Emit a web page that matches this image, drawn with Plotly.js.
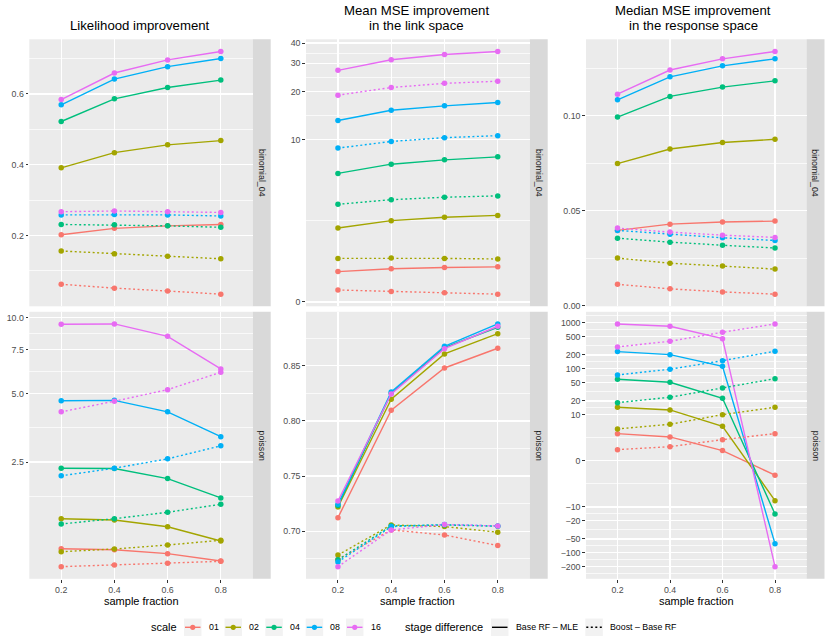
<!DOCTYPE html>
<html>
<head>
<meta charset="utf-8">
<script src="https://cdn.plot.ly/plotly-3.0.1.min.js"></script>
<style>
  html, body { margin: 0; padding: 0; background: #fff; }
  #chart { width: 830px; height: 642px; }
</style>
</head>
<body>
<div id="chart"></div>
<script>
const sampleFraction = [0.2, 0.4, 0.6, 0.8];
const sampleLabels = ['0.2', '0.4', '0.6', '0.8'];
const scaleLevels = ['01', '02', '04', '08', '16'];
const scaleColors = ['#F8766D', '#A3A500', '#00BF7D', '#00B0F6', '#E76BF3'];
const stageLabels = ['Base RF \u2013 MLE', 'Boost \u2013 Base RF'];
const rowLabels = ['binomial_04', 'poisson'];

// one row per scale level (01, 02, 04, 08, 16), one column per sample fraction
const likBinomBase = [
  [0.202, 0.220, 0.227, 0.231],
  [0.391, 0.434, 0.456, 0.468],
  [0.522, 0.586, 0.618, 0.639],
  [0.569, 0.642, 0.677, 0.700],
  [0.584, 0.659, 0.696, 0.720]
];
const likBinomBoost = [
  [0.062, 0.051, 0.043, 0.034],
  [0.156, 0.148, 0.141, 0.134],
  [0.231, 0.230, 0.227, 0.223],
  [0.258, 0.259, 0.258, 0.255],
  [0.267, 0.269, 0.267, 0.265]
];
const meanBinomBase = [
  [0.89, 0.98, 1.02, 1.04],
  [2.52, 2.87, 3.04, 3.14],
  [6.08, 6.98, 7.44, 7.78],
  [13.2, 15.3, 16.3, 17.1],
  [27.1, 31.5, 34.0, 35.5]
];
const meanBinomBoost = [
  [0.34, 0.30, 0.26, 0.22],
  [1.32, 1.33, 1.32, 1.30],
  [3.77, 4.06, 4.22, 4.31],
  [8.84, 9.74, 10.3, 10.6],
  [19.0, 21.2, 22.5, 23.2]
];
const medBinomBase = [
  [0.0396, 0.0429, 0.0440, 0.0445],
  [0.0748, 0.0825, 0.0859, 0.0876],
  [0.0993, 0.1102, 0.1151, 0.1184],
  [0.1084, 0.1205, 0.1263, 0.1300],
  [0.1114, 0.1241, 0.1300, 0.1339]
];
const medBinomBoost = [
  [0.0112, 0.0088, 0.0072, 0.0060],
  [0.0250, 0.0223, 0.0208, 0.0192],
  [0.0355, 0.0334, 0.0318, 0.0303],
  [0.0396, 0.0376, 0.0357, 0.0343],
  [0.0408, 0.0387, 0.0371, 0.0359]
];
const likPoisBase = [
  [0.583, 0.565, 0.493, 0.362],
  [1.158, 1.132, 0.998, 0.725],
  [2.33, 2.32, 2.06, 1.60],
  [4.67, 4.69, 4.20, 3.28],
  [9.43, 9.46, 8.46, 6.29]
];
const likPoisBoost = [
  [0.261, 0.291, 0.321, 0.356],
  [0.529, 0.578, 0.651, 0.739],
  [1.052, 1.158, 1.29, 1.46],
  [2.13, 2.33, 2.59, 2.98],
  [4.20, 4.65, 5.19, 6.10]
];
const meanPoisBase = [
  [0.7123, 0.8096, 0.8479, 0.8658],
  [0.7220, 0.8196, 0.8606, 0.8790],
  [0.7232, 0.8250, 0.8663, 0.8848],
  [0.7245, 0.8262, 0.8676, 0.8878],
  [0.7274, 0.8244, 0.8654, 0.8857]
];
const meanPoisBoost = [
  [0.6745, 0.7012, 0.6966, 0.6870],
  [0.6785, 0.7057, 0.7042, 0.6991],
  [0.6741, 0.7048, 0.7057, 0.7045],
  [0.6722, 0.7042, 0.7060, 0.7048],
  [0.6679, 0.7012, 0.7060, 0.7048]
];
const medPoisBase = [
  [3.63, 2.99, 1.06, -1.58],
  [14.5, 12.65, 5.45, -7.24],
  [59.2, 50.9, 22.8, -14.3],
  [236, 203, 113.5, -63.5],
  [944, 842, 452, -201]
];
const medPoisBoost = [
  [1.17, 1.53, 2.53, 3.63],
  [4.71, 6.06, 9.96, 14.5],
  [18.3, 24.0, 38.3, 61.0],
  [73.4, 97.7, 150, 241],
  [299, 397, 623, 944]
];

// y breaks and their labels
const likBinomBreaks = [0.2, 0.4, 0.6];
const likBinomLabels = ['0.2', '0.4', '0.6'];
const meanBinomBreaks = [0, 10, 20, 30, 40];
const meanBinomLabels = ['0', '10', '20', '30', '40'];
const medBinomBreaks = [0, 0.05, 0.10];
const medBinomLabels = ['0.00', '0.05', '0.10'];
const likPoisBreaks = [2.5, 5, 7.5, 10];
const likPoisLabels = ['2.5', '5.0', '7.5', '10.0'];
const meanPoisBreaks = [0.70, 0.75, 0.80, 0.85];
const meanPoisLabels = ['0.70', '0.75', '0.80', '0.85'];
const medPoisBreaks = [-200, -100, -50, -20, -10, 0, 10, 20, 50, 100, 200, 500, 1000];
const medPoisLabels = ['\u2212200', '\u2212100', '\u221250', '\u221220', '\u221210', '0',
  '10', '20', '50', '100', '200', '500', '1000'];

const FONT = 'Liberation Sans, Arial, Helvetica, sans-serif';
const DOTTED = '2px,2.5px';
const W = 830, H = 642;
const px = v => v / W;
const py = v => 1 - v / H;

// pseudo log (sigma = 1) like scales::pseudo_log_trans
const identity = v => v;
const pseudoLog = v => Math.asinh(v / 2);

const panels = [
  { base: likBinomBase, boost: likBinomBoost, tr: identity, breaks: likBinomBreaks, labels: likBinomLabels },
  { base: meanBinomBase, boost: meanBinomBoost, tr: pseudoLog, breaks: meanBinomBreaks, labels: meanBinomLabels },
  { base: medBinomBase, boost: medBinomBoost, tr: identity, breaks: medBinomBreaks, labels: medBinomLabels },
  { base: likPoisBase, boost: likPoisBoost, tr: pseudoLog, breaks: likPoisBreaks, labels: likPoisLabels },
  { base: meanPoisBase, boost: meanPoisBoost, tr: identity, breaks: meanPoisBreaks, labels: meanPoisLabels },
  { base: medPoisBase, boost: medPoisBoost, tr: pseudoLog, breaks: medPoisBreaks, labels: medPoisLabels }
];

const colPx = [[29.3, 252.7], [306, 529.7], [586, 806.5]];
const rowPx = [[39.3, 306.3], [311.8, 578.8]];
const stripW = 18;
const titleX = [140, 417, 693];

function paddedRange(vals) {
  const lo = Math.min(...vals), hi = Math.max(...vals);
  const pad = (hi - lo) * 0.05;
  return [lo - pad, hi + pad];
}

// same idea as ggplot's regular_minor_breaks
function minorBreaks(bt, lim) {
  let b = bt.filter(v => v >= lim[0] && v <= lim[1]);
  const bd = b[1] - b[0];
  if (lim[0] < b[0]) b = [b[0] - bd].concat(b);
  if (lim[1] > b[b.length - 1]) b = b.concat([b[b.length - 1] + bd]);
  const out = [];
  for (let i = 0; i < b.length - 1; i++) out.push((b[i] + b[i + 1]) / 2);
  return out.filter(v => v >= lim[0] && v <= lim[1]);
}

const traces = [];
const layout = {
  width: W, height: H,
  margin: { l: 0, r: 0, t: 0, b: 0 },
  paper_bgcolor: '#FFFFFF',
  plot_bgcolor: '#EBEBEB',
  showlegend: false,
  font: { family: FONT, size: 11, color: '#000000' },
  shapes: [],
  annotations: []
};

function note(txt, x, y, size, opts) {
  layout.annotations.push(Object.assign({
    xref: 'paper', yref: 'paper', showarrow: false,
    xanchor: 'center', yanchor: 'middle',
    x: px(x), y: py(y), text: txt,
    font: { family: FONT, size: size, color: '#000000' }
  }, opts || {}));
}

panels.forEach((p, k) => {
  const row = Math.floor(k / 3), col = k % 3;
  const sfx = k === 0 ? '' : String(k + 1);
  const all = [];
  [p.base, p.boost].forEach((set, s) => {
    set.forEach((vals, i) => {
      const yt = vals.map(p.tr);
      all.push(...yt);
      traces.push({
        x: sampleFraction, y: yt,
        xaxis: 'x' + sfx, yaxis: 'y' + sfx,
        type: 'scatter', mode: 'lines+markers',
        name: scaleLevels[i] + ' ' + stageLabels[s],
        line: { color: scaleColors[i], width: 1.4, dash: s === 0 ? 'solid' : DOTTED },
        marker: { color: scaleColors[i], size: 5.5 },
        hoverinfo: 'skip'
      });
    });
  });
  const yr = paddedRange(all);
  const bt = p.breaks.map(p.tr);

  layout['xaxis' + sfx] = {
    anchor: 'y' + sfx,
    domain: [px(colPx[col][0]), px(colPx[col][1])],
    range: [0.08, 0.92],
    tickmode: 'array', tickvals: sampleFraction, ticktext: sampleLabels,
    showticklabels: row === 1,
    ticks: row === 1 ? 'outside' : '',
    ticklen: 2.75, tickwidth: 1, tickcolor: '#333333',
    tickfont: { family: FONT, size: 8.8, color: '#4D4D4D' },
    showgrid: true, gridcolor: '#FFFFFF', gridwidth: 1.4,
    zeroline: false, showline: false, fixedrange: true
  };
  layout['yaxis' + sfx] = {
    anchor: 'x' + sfx,
    domain: [py(rowPx[row][1]), py(rowPx[row][0])],
    range: yr,
    tickmode: 'array', tickvals: bt, ticktext: p.labels,
    ticks: 'outside', ticklen: 2.75, tickwidth: 1, tickcolor: '#333333',
    tickfont: { family: FONT, size: 8.8, color: '#4D4D4D' },
    showgrid: true, gridcolor: '#FFFFFF', gridwidth: 1.4,
    minor: { tickmode: 'array', tickvals: minorBreaks(bt, yr), ticks: '',
      showgrid: true, gridcolor: '#FFFFFF', gridwidth: 0.7 },
    zeroline: false, showline: false, fixedrange: true
  };

  // facet strip on the right
  layout.shapes.push({
    type: 'rect', xref: 'paper', yref: 'paper', layer: 'below',
    x0: px(colPx[col][1]), x1: px(colPx[col][1] + stripW),
    y0: py(rowPx[row][1]), y1: py(rowPx[row][0]),
    fillcolor: '#D9D9D9', line: { width: 0 }
  });
  note(rowLabels[row], colPx[col][1] + stripW / 2, (rowPx[row][0] + rowPx[row][1]) / 2, 8.8,
    { textangle: 90, font: { family: FONT, size: 8.8, color: '#1A1A1A' } });
});

// column titles and x axis titles
const titleLines = [
  [['Likelihood improvement', 25.5]],
  [['Mean MSE improvement', 11], ['in the link space', 25.7]],
  [['Median MSE improvement', 11], ['in the response space', 25.7]]
];
titleLines.forEach((lines, c) => {
  lines.forEach(([txt, y]) => note(txt, titleX[c], y, 13.2));
  note('sample fraction', (colPx[c][0] + colPx[c][1]) / 2, 600.5, 11);
});

// legend drawn by hand, ggplot style
const legY = 627.3, keyH = 17.5;
function legText(txt, x, size) {
  note(txt, x, legY, size, { xanchor: 'left' });
}
function legKey(x0) {
  layout.shapes.push({
    type: 'rect', xref: 'paper', yref: 'paper',
    x0: px(x0), x1: px(x0 + keyH), y0: py(legY + keyH / 2), y1: py(legY - keyH / 2),
    fillcolor: '#F2F2F2', line: { width: 0 }
  });
}
legText('scale', 149, 11);
const scaleKeyX = [184, 224.5, 265.3, 305.7, 346];
scaleLevels.forEach((lv, i) => {
  const x0 = scaleKeyX[i];
  legKey(x0);
  layout.shapes.push({
    type: 'line', xref: 'paper', yref: 'paper',
    x0: px(x0 + 1), x1: px(x0 + keyH - 1), y0: py(legY), y1: py(legY),
    line: { color: scaleColors[i], width: 1.4 }
  });
  layout.shapes.push({
    type: 'circle', xref: 'paper', yref: 'paper',
    x0: px(x0 + keyH / 2 - 2.6), x1: px(x0 + keyH / 2 + 2.6),
    y0: py(legY + 2.6), y1: py(legY - 2.6),
    fillcolor: scaleColors[i], line: { width: 0 }
  });
  legText(lv, x0 + 22.5, 8.8);
});
legText('stage difference', 402.5, 11);
const stageKeyX = [491, 585.3];
stageLabels.forEach((lb, s) => {
  const x0 = stageKeyX[s];
  legKey(x0);
  layout.shapes.push({
    type: 'line', xref: 'paper', yref: 'paper',
    x0: px(x0 + 1), x1: px(x0 + keyH - 1), y0: py(legY), y1: py(legY),
    line: { color: '#000000', width: 1.4, dash: s === 0 ? 'solid' : DOTTED }
  });
  legText(lb, x0 + 23, 8.8);
});

Plotly.newPlot('chart', traces, layout, { staticPlot: true, displayModeBar: false });
</script>
</body>
</html>
